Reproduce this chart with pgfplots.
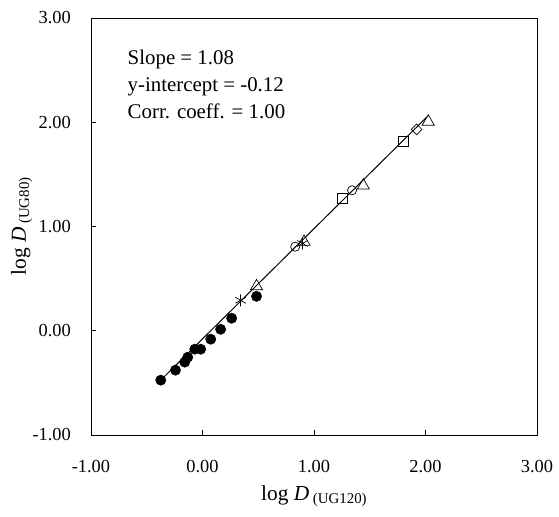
\documentclass[border=0pt]{standalone}
\usepackage{fontspec}
\setmainfont{Liberation Serif}
\usepackage{pgfplots}
\pgfplotsset{compat=1.18}

\begin{document}
\fontsize{18}{21}\selectfont
\begin{tikzpicture}
\begin{axis}[
  name=main,
  scale only axis,
  width=447bp, height=418bp,
  xmin=-1, xmax=3, ymin=-1, ymax=3,
  xtick={-1,0,1,2,3}, ytick={-1,0,1,2,3},
  tick align=inside,
  xtick pos=bottom, ytick pos=left,
  major tick length=5bp,
  axis line style={line width=0.9pt},
  tick style={black, line width=0.6pt},
  /pgf/number format/fixed,
  /pgf/number format/fixed zerofill,
  /pgf/number format/precision=2,
  /pgf/number format/assume math mode=true,
  tick label style={font=\fontsize{18.5}{20}\selectfont},
  xticklabel style={yshift=-19bp},
  yticklabel style={xshift=-14bp},
  xlabel={log \textit{D}\,\raisebox{-0.35ex}{\fontsize{15}{17}\selectfont (UG120)}},
  ylabel={log \textit{D}\,\raisebox{-0.35ex}{\fontsize{15}{17}\selectfont (UG80)}},
  label style={font=\fontsize{21.5}{23}\selectfont},
  xlabel style={yshift=-1bp},
  ylabel style={yshift=-12bp},
]
% fitted line
\addplot[black, line width=1pt] coordinates {(-0.374,-0.474) (2.016,2.053)};
% filled circles
\addplot[only marks, mark=*, mark size=5.2bp, black] coordinates {
(-0.374,-0.474) (-0.242,-0.378) (-0.159,-0.301) (-0.132,-0.254)
(-0.069,-0.177) (-0.016,-0.177) (0.074,-0.081) (0.163,0.014)
(0.262,0.120) (0.485,0.330)
};
% asterisks
\addplot[only marks, mark=asterisk, mark size=6bp, black, mark options={line width=0.7pt}] coordinates {
(0.342,0.292) (0.897,0.837)
};
% open triangles
\addplot[only marks, mark=triangle, mark size=7bp, black, mark options={line width=0.7pt}] coordinates {
(0.485,0.426) (0.911,0.852) (1.443,1.392) (2.025,2.005)
};
% open circles
\addplot[only marks, mark=o, mark size=4.6bp, black, mark options={line width=0.7pt}] coordinates {
(0.832,0.806) (1.342,1.347)
};
% open squares
\addplot[only marks, mark=square, mark size=5bp, black, mark options={line width=0.7pt}] coordinates {
(1.258,1.268) (1.798,1.820)
};
% diamonds
\addplot[only marks, mark=square, mark size=3.8bp, black, mark options={line width=0.7pt, rotate=45}] coordinates {
(1.920,1.931)
};
\node[anchor=west, align=left, inner sep=0pt, font=\fontsize{21}{27}\selectfont]
  at (rel axis cs:0.082,0.841) {Slope = 1.08\\y-intercept = -0.12\\Corr. coeff. = 1.00};
\end{axis}
% extra room round the picture, as in the reference
\path ([yshift=18bp]main.north west);
\path ([xshift=-5bp]current bounding box.west);
\path ([yshift=-3bp]current bounding box.south);
\end{tikzpicture}
\end{document}
